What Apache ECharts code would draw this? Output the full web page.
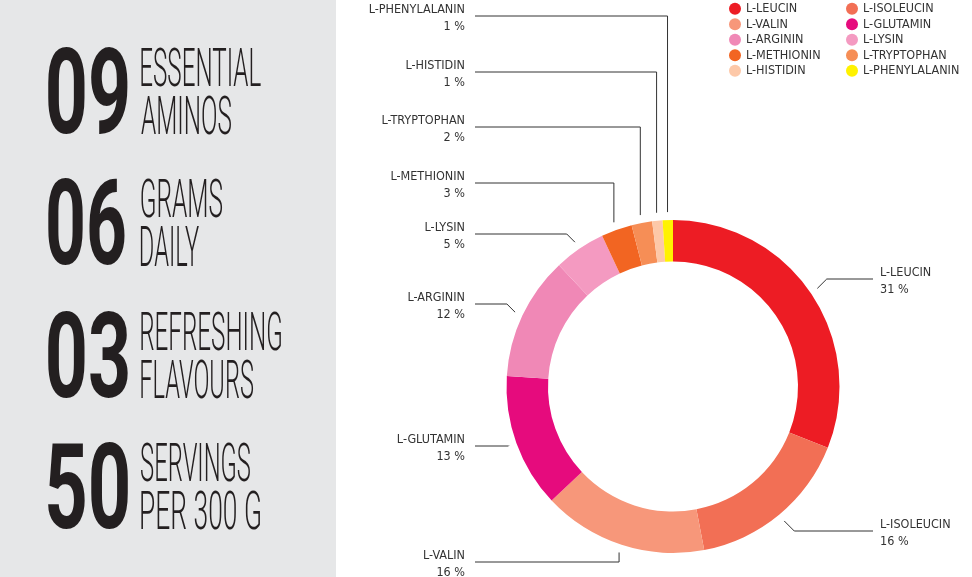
<!DOCTYPE html>
<html lang="de">
<head>
<meta charset="UTF-8">
<title>Amino Profile</title>
<script src="https://cdn.jsdelivr.net/npm/echarts@6/dist/echarts.min.js"></script>
<style>
  html, body { margin: 0; padding: 0; background: #fff; }
  #chart { width: 972px; height: 577px; }
</style>
</head>
<body>
<div id="chart"></div>
<script>
// data
const aminoNames = ['L-LEUCIN', 'L-ISOLEUCIN', 'L-VALIN', 'L-GLUTAMIN', 'L-ARGININ',
                    'L-LYSIN', 'L-METHIONIN', 'L-TRYPTOPHAN', 'L-HISTIDIN', 'L-PHENYLALANIN'];
const aminoShares = [31, 16, 16, 13, 12, 5, 3, 2, 1, 1];
const aminoColors = ['#ed1c24', '#f26f55', '#f7977a', '#e60b7d', '#f088b6',
                     '#f49ac1', '#f26522', '#f68e56', '#fdc8a8', '#fff200'];

const factNumbers = ['09', '06', '03', '50'];
const factLine1 = ['ESSENTIAL', 'GRAMS', 'REFRESHING', 'SERVINGS'];
const factLine2 = ['AMINOS', 'DAILY', 'FLAVOURS', 'PER 300 G'];

// layout
const CX = 673, CY = 386.5, R_IN = 125, R_OUT = 166.5;
const labelFont = "'DejaVu Sans Condensed', 'Liberation Sans Narrow', sans-serif";
const leaderY = [279, 531, 562, 446, 304, 234, 183, 127, 72, 16];
const leaderVertical = [false, false, true, false, false, false, true, true, true, true];

const factTop = [47, 178, 311, 442];
const numWidth = [80, 77, 80, 80];
const line1Width = [120, 81, 140, 109];
const line2Width = [90, 58, 112, 119];

const total = aminoShares.reduce((a, b) => a + b, 0);
function midAngle(i) {
    let before = 0;
    for (let k = 0; k < i; k++) before += aminoShares[k];
    return (before + aminoShares[i] / 2) / total * Math.PI * 2;
}

// fit text into a box by font size (cap height) and horizontal squeeze
const mctx = document.createElement('canvas').getContext('2d');
function fitText(text, weight, family, x0, top, width, capH, color) {
    mctx.textBaseline = 'middle';
    mctx.font = weight + ' 100px ' + family;
    let m = mctx.measureText(text);
    const size = 100 * capH / (m.actualBoundingBoxAscent + m.actualBoundingBoxDescent);
    const font = weight + ' ' + size.toFixed(2) + 'px ' + family;
    mctx.font = font;
    m = mctx.measureText(text);
    const w = m.actualBoundingBoxRight + m.actualBoundingBoxLeft;
    const sx = width / w;
    return {
        type: 'text',
        x: x0 + m.actualBoundingBoxLeft * sx,
        y: top + m.actualBoundingBoxAscent,
        scaleX: sx,
        silent: true,
        style: {
            text: text, x: 0, y: 0, font: font, fill: color,
            align: 'left', verticalAlign: 'middle',
            textAlign: 'left', textVerticalAlign: 'middle'
        }
    };
}

const panel = [{
    type: 'rect', silent: true,
    shape: { x: 0, y: 0, width: 336, height: 577 },
    style: { fill: '#e6e7e8' }
}];
factNumbers.forEach((n, i) => {
    panel.push(fitText(n, 'bold', 'Roboto', 48, factTop[i], numWidth[i], 88, '#231f20'));
    panel.push(fitText(factLine1[i], '300', 'Roboto', 141, factTop[i], line1Width[i], 40, '#231f20'));
    panel.push(fitText(factLine2[i], '300', 'Roboto', 141, factTop[i] + 48, line2Width[i], 40, '#231f20'));
});

const chart = echarts.init(document.getElementById('chart'));
chart.setOption({
    animation: false,
    color: aminoColors,
    graphic: panel,
    legend: {
        data: aminoNames,
        left: 729,
        top: 2,
        width: 240,
        padding: 0,
        icon: 'circle',
        itemWidth: 12,
        itemHeight: 12,
        itemGap: 2,
        selectedMode: false,
        textStyle: {
            width: 98,
            fontSize: 12.5,
            lineHeight: 13.5,
            color: '#333',
            fontFamily: labelFont
        }
    },
    series: [{
        type: 'pie',
        center: [CX, CY],
        radius: [R_IN, R_OUT],
        startAngle: 90,
        clockwise: true,
        avoidLabelOverlap: false,
        emphasis: { disabled: true },
        itemStyle: { borderWidth: 0 },
        label: {
            show: true,
            position: 'outside',
            formatter: '{b}\n{c} %',
            fontSize: 12.5,
            lineHeight: 17,
            color: '#333',
            fontFamily: labelFont
        },
        labelLine: {
            show: true,
            length: 10,
            length2: 10,
            lineStyle: { color: '#333', width: 1 }
        },
        labelLayout: function (params) {
            const i = params.dataIndex;
            const a = midAngle(i);
            const r = R_OUT + 8;
            const sx = CX + r * Math.sin(a);
            const sy = CY - r * Math.cos(a);
            const ly = leaderY[i];
            const right = sx > CX;
            const ex = leaderVertical[i] ? sx : sx + (right ? 1 : -1) * Math.abs(ly - sy);
            return {
                x: right ? 880 : 465,
                y: ly + 2,
                align: right ? 'left' : 'right',
                verticalAlign: 'middle',
                labelLinePoints: [[sx, sy], [ex, ly], [right ? 873 : 475, ly]]
            };
        },
        data: aminoNames.map((n, i) => ({ name: n, value: aminoShares[i] }))
    }]
});
</script>
</body>
</html>
